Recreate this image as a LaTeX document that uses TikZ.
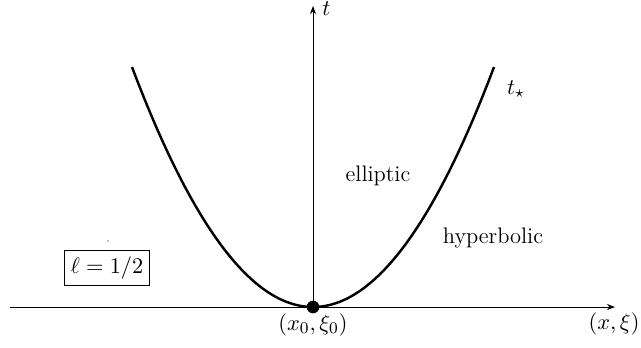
\documentclass[tikz,border=0pt]{standalone}
\usetikzlibrary{arrows.meta}
\tikzset{
  axis/.style={line width=0.4pt,-{Stealth[length=4pt,width=3pt]}},
  curve/.style={line width=1.2pt},
  lbl/.style={inner sep=1pt},
}
\begin{document}
\begin{tikzpicture}[x=0.49pt,y=-0.49pt,every node/.style={font=\fontsize{11}{13}\selectfont}]
\useasboundingbox (0,0) rectangle (641,347);
\coordinate (xl) at (10,307);
\coordinate (xr) at (615,307);
\coordinate (yb) at (313,307);
\coordinate (yt) at (313,6);
\draw[axis] (xl) -- (xr);
\draw[axis] (yb) -- (yt);
\draw[curve] plot[domain=-181:181,samples=120] ({313+\x},{307-240*(\x/181)*(\x/181)});
\node[circle,fill=black,inner sep=0pt,minimum size=6.2pt] (v) at (313,307) {};
\node[lbl,anchor=west] (t) at (320,9) {$t$};
\node[lbl] (ts) at (516,89) {$t_\star$};
\node[lbl] (ell) at (378,176) {elliptic};
\node[lbl] (hyp) at (493,238) {hyperbolic};
\node[lbl] (x0) at (313,325) {$(x_0,\xi_0)$};
\node[lbl] (xx) at (614,324) {$(x,\xi)$};
\node[draw,line width=0.4pt,inner sep=3pt] (ell2) at (107,268) {$\ell=1/2$};
\fill (108,241) circle (0.3pt);
\end{tikzpicture}
\end{document}
